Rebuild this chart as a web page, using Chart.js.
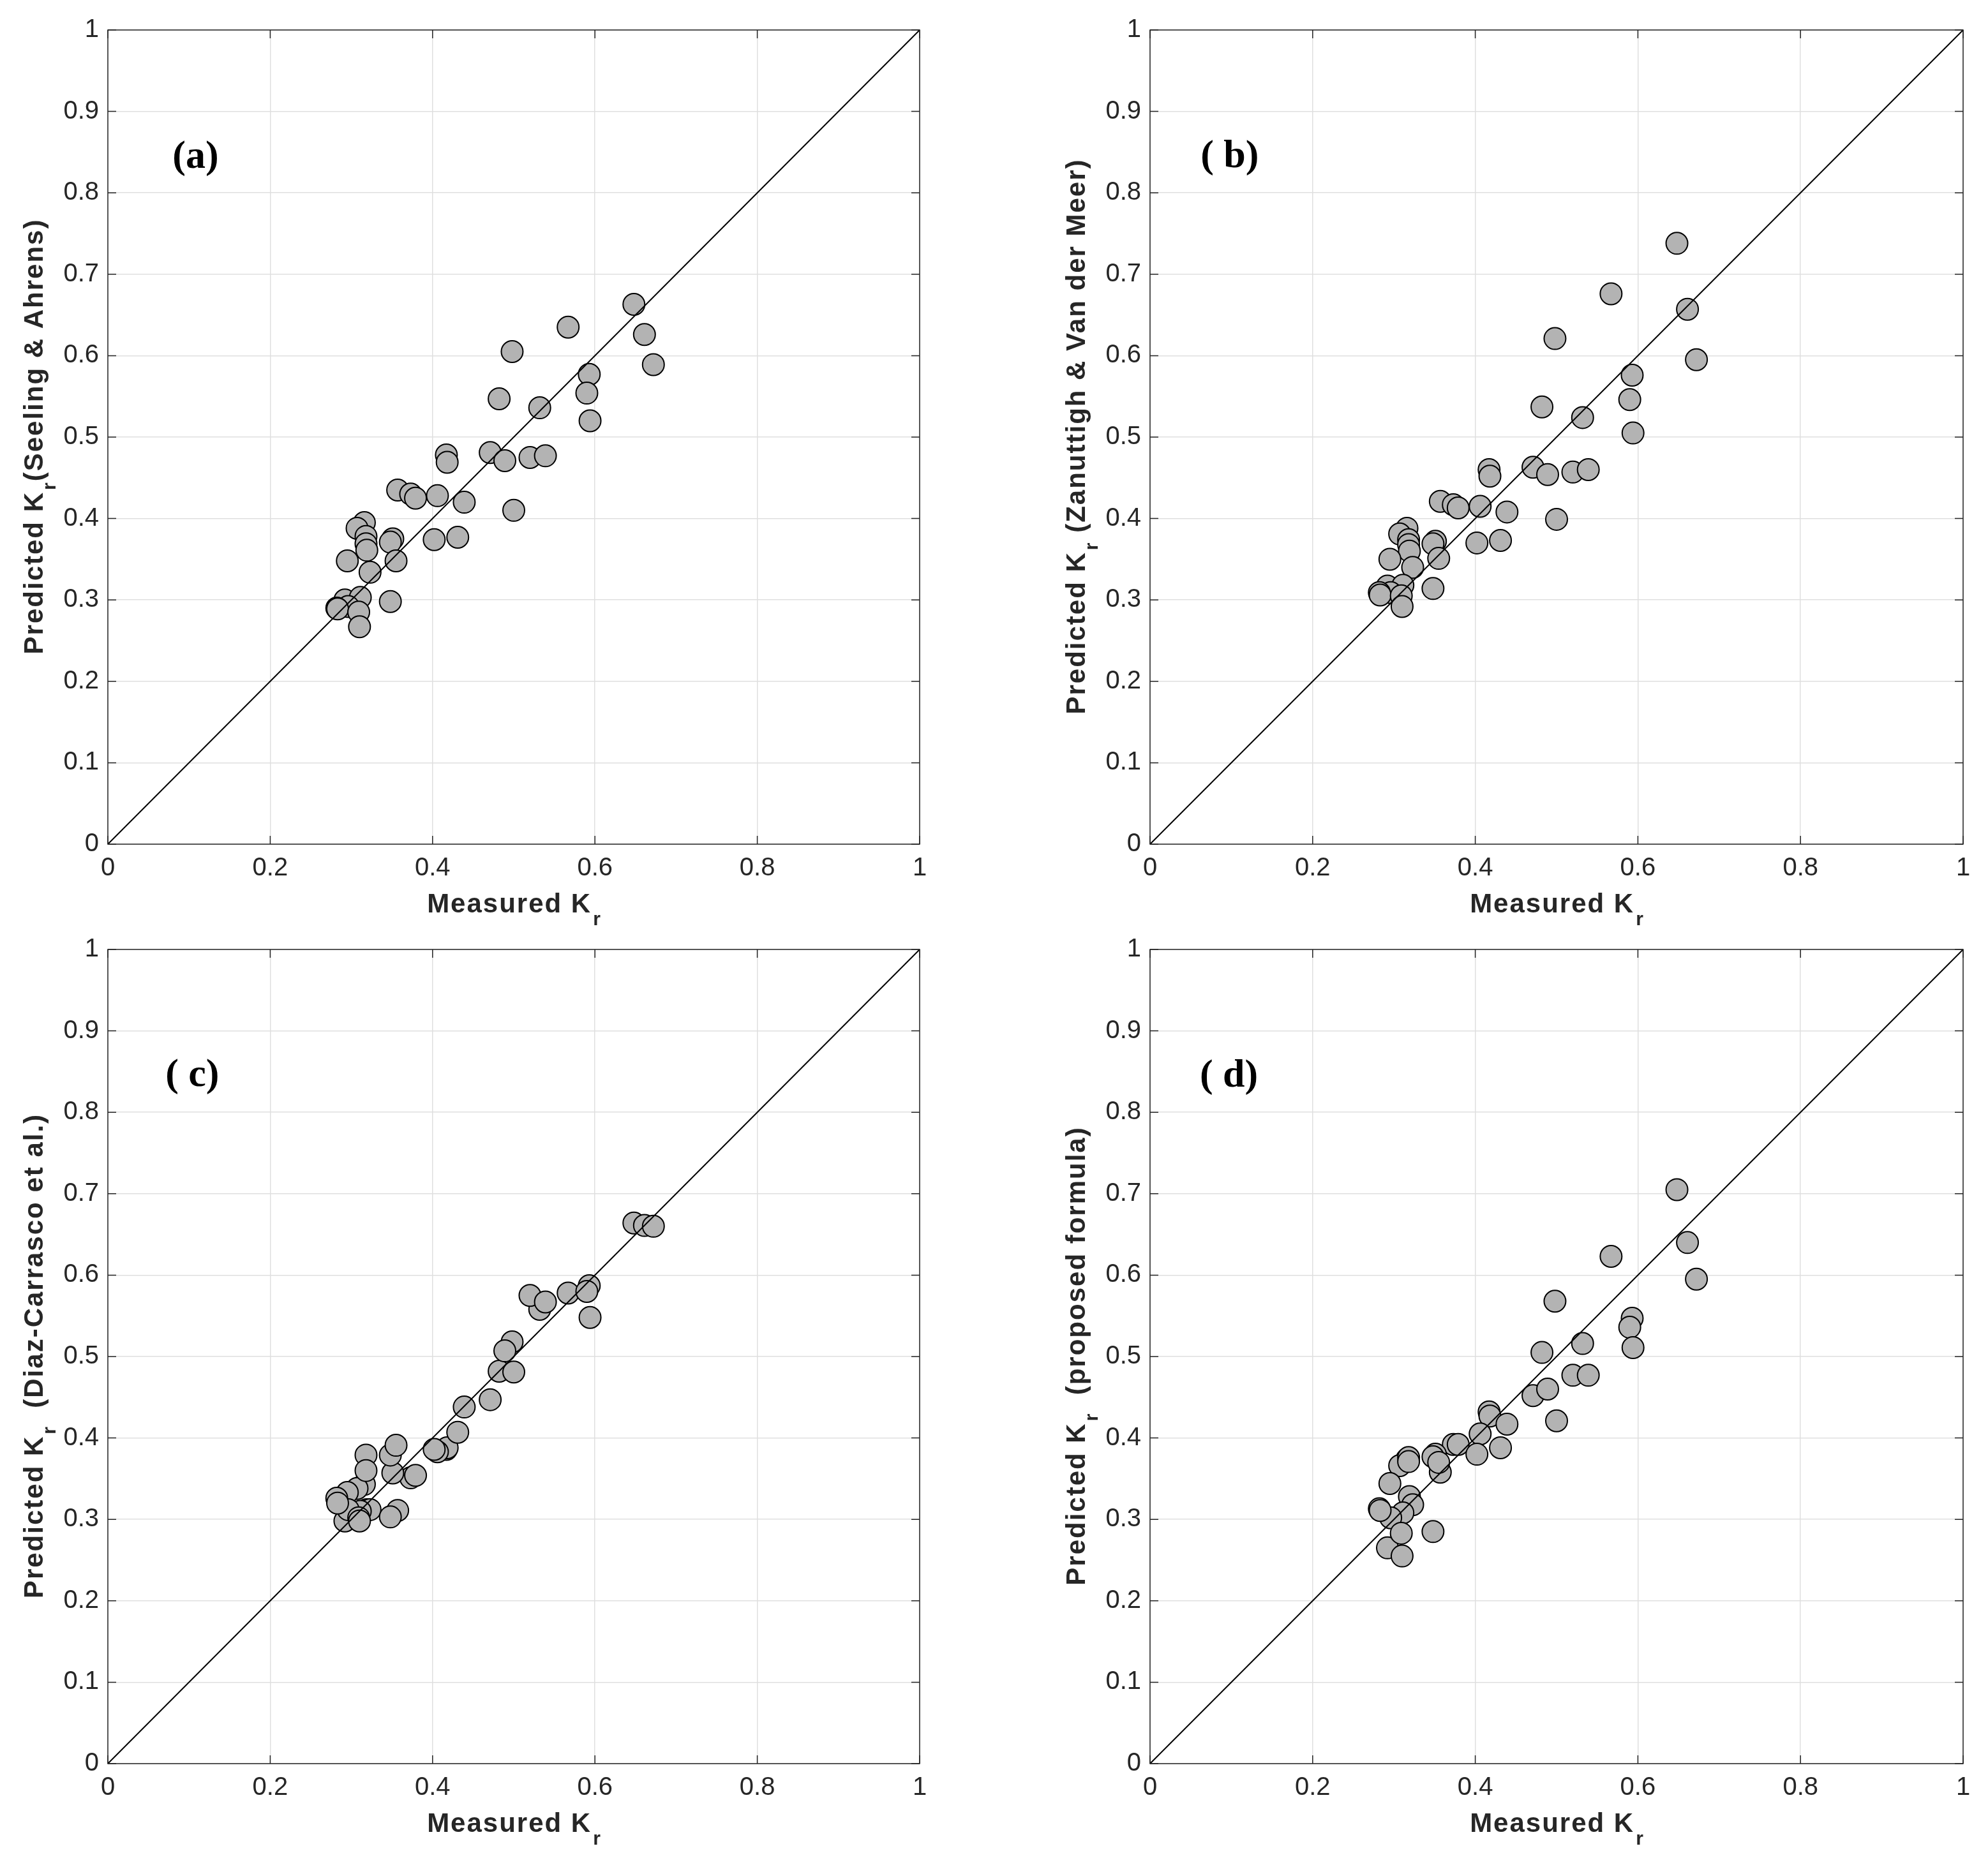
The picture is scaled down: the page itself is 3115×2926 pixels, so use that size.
<!DOCTYPE html>
<html>
<head>
<meta charset="utf-8">
<title>Predicted vs measured Kr</title>
<script src="https://cdn.jsdelivr.net/npm/chart.js@4.4.1/dist/chart.umd.min.js"></script>
<style>
  html, body { margin: 0; padding: 0; background: #fff; }
  body { width: 3115px; height: 2926px; position: relative; overflow: hidden; }
  canvas { position: absolute; }
</style>
</head>
<body>
<canvas id="chartA" width="1557" height="1463" style="left:0px;top:0px"></canvas>
<canvas id="chartB" width="1558" height="1463" style="left:1557px;top:0px"></canvas>
<canvas id="chartC" width="1557" height="1486" style="left:0px;top:1440px"></canvas>
<canvas id="chartD" width="1558" height="1486" style="left:1557px;top:1440px"></canvas>
<script>
// measured Kr, same for all four panels
const measured = [0.648, 0.567, 0.661, 0.672, 0.498, 0.593, 0.590, 0.594, 0.482, 0.532,
                  0.471, 0.489, 0.520, 0.539, 0.417, 0.418, 0.357, 0.373, 0.379, 0.406,
                  0.439, 0.500, 0.316, 0.307, 0.318, 0.318, 0.319, 0.351, 0.348, 0.402,
                  0.431, 0.295, 0.355, 0.323, 0.292, 0.311, 0.348, 0.296, 0.282, 0.283,
                  0.309, 0.310];

const predSeeling = [0.663, 0.635, 0.626, 0.589, 0.605, 0.577, 0.554, 0.520, 0.547, 0.536,
                     0.481, 0.471, 0.475, 0.477, 0.478, 0.469, 0.435, 0.430, 0.425, 0.428,
                     0.420, 0.410, 0.395, 0.388, 0.378, 0.369, 0.361, 0.375, 0.371, 0.374,
                     0.377, 0.348, 0.348, 0.334, 0.300, 0.303, 0.298, 0.292, 0.290, 0.289,
                     0.285, 0.267];

const predZanuttigh = [0.738, 0.676, 0.657, 0.595, 0.621, 0.576, 0.546, 0.505, 0.537, 0.524,
                       0.463, 0.454, 0.457, 0.460, 0.460, 0.452, 0.421, 0.417, 0.413, 0.415,
                       0.408, 0.399, 0.388, 0.381, 0.374, 0.368, 0.360, 0.372, 0.369, 0.370,
                       0.373, 0.350, 0.351, 0.340, 0.317, 0.318, 0.314, 0.309, 0.309, 0.306,
                       0.305, 0.292];

const predDiaz = [0.664, 0.578, 0.661, 0.660, 0.518, 0.587, 0.580, 0.548, 0.482, 0.558,
                  0.447, 0.507, 0.575, 0.567, 0.386, 0.388, 0.311, 0.351, 0.354, 0.383,
                  0.438, 0.481, 0.343, 0.338, 0.379, 0.360, 0.312, 0.357, 0.379, 0.386,
                  0.407, 0.333, 0.391, 0.312, 0.298, 0.310, 0.303, 0.312, 0.326, 0.320,
                  0.302, 0.298];

const predProposed = [0.705, 0.623, 0.640, 0.595, 0.568, 0.547, 0.536, 0.511, 0.505, 0.516,
                      0.452, 0.460, 0.477, 0.477, 0.432, 0.427, 0.358, 0.392, 0.392, 0.405,
                      0.417, 0.421, 0.374, 0.366, 0.376, 0.371, 0.328, 0.380, 0.377, 0.380,
                      0.388, 0.344, 0.370, 0.318, 0.265, 0.308, 0.285, 0.302, 0.313, 0.311,
                      0.283, 0.255];

const xTickValues = [0, 0.2, 0.4, 0.6, 0.8, 1];
const xTickLabels = ['0', '0.2', '0.4', '0.6', '0.8', '1'];
const yTickValues = [0, 0.1, 0.2, 0.3, 0.4, 0.5, 0.6, 0.7, 0.8, 0.9, 1];
const yTickLabels = ['0', '0.1', '0.2', '0.3', '0.4', '0.5', '0.6', '0.7', '0.8', '0.9', '1'];
const diagonal = [0, 1];

const sansFamily = '"Liberation Sans", Arial, sans-serif';
const axisColor = '#262626';

// draws "main" + subscript + "rest" centred on cx, baseline baseY
function drawSubText(ctx, parts, cx, baseY) {
  const mainFont = 'bold 42px ' + sansFamily;
  const subFont = 'bold 30px ' + sansFamily;
  ctx.letterSpacing = '2px';
  ctx.font = mainFont;
  const w1 = ctx.measureText(parts[0]).width;
  const w3 = ctx.measureText(parts[2]).width;
  ctx.font = subFont;
  const w2 = ctx.measureText(parts[1]).width;
  const x0 = cx - (w1 + w2 + w3) / 2;
  ctx.textAlign = 'left';
  ctx.textBaseline = 'alphabetic';
  ctx.fillStyle = axisColor;
  ctx.font = mainFont;
  ctx.fillText(parts[0], x0, baseY);
  ctx.font = subFont;
  ctx.fillText(parts[1], x0 + w1 + 2, baseY + 20);
  ctx.font = mainFont;
  ctx.fillText(parts[2], x0 + w1 + w2 + 2, baseY);
}

const framePlugin = {
  id: 'frame',
  afterDraw(chart, args, opts) {
    const { ctx, chartArea: a, scales: { x, y } } = chart;
    ctx.save();
    ctx.strokeStyle = axisColor;
    ctx.lineWidth = 1.5;
    ctx.strokeRect(a.left, a.top, a.right - a.left, a.bottom - a.top);
    // inward ticks on all four sides
    ctx.beginPath();
    xTickValues.forEach(v => {
      const px = x.getPixelForValue(v);
      ctx.moveTo(px, a.bottom); ctx.lineTo(px, a.bottom - 13);
      ctx.moveTo(px, a.top); ctx.lineTo(px, a.top + 13);
    });
    yTickValues.forEach(v => {
      const py = y.getPixelForValue(v);
      ctx.moveTo(a.left, py); ctx.lineTo(a.left + 13, py);
      ctx.moveTo(a.right, py); ctx.lineTo(a.right - 13, py);
    });
    ctx.stroke();

    // panel tag
    ctx.fillStyle = '#000';
    ctx.font = 'bold 62px "Liberation Serif", "Times New Roman", serif';
    ctx.textAlign = 'center';
    ctx.textBaseline = 'middle';
    ctx.fillText(opts.tag, x.getPixelForValue(opts.tagX), y.getPixelForValue(opts.tagY));

    // axis titles
    drawSubText(ctx, ['Measured K', 'r', ''], (a.left + a.right) / 2, a.bottom + 107);
    ctx.translate(a.left - 102, (a.top + a.bottom) / 2);
    ctx.rotate(-Math.PI / 2);
    drawSubText(ctx, opts.yTitle, 0, 0);
    ctx.restore();
  }
};

const panels = [
  { id: 'chartA', pred: predSeeling, tag: '(a)', tagX: 0.108, tagY: 0.843,
    yTitle: ['Predicted K', 'r', '(Seeling & Ahrens)'],
    canvas: { left: 0, top: 0, width: 1557, height: 1463 },
    box: { left: 169, top: 47, right: 1441, bottom: 1323 } },
  { id: 'chartB', pred: predZanuttigh, tag: '( b)', tagX: 0.098, tagY: 0.844,
    yTitle: ['Predicted K', 'r', ' (Zanuttigh & Van der Meer)'],
    canvas: { left: 1557, top: 0, width: 1558, height: 1463 },
    box: { left: 1802, top: 47, right: 3076, bottom: 1323 } },
  { id: 'chartC', pred: predDiaz, tag: '( c)', tagX: 0.104, tagY: 0.845,
    yTitle: ['Predicted K', 'r', '  (Diaz-Carrasco et al.)'],
    canvas: { left: 0, top: 1440, width: 1557, height: 1486 },
    box: { left: 169, top: 1488, right: 1441, bottom: 2764 } },
  { id: 'chartD', pred: predProposed, tag: '( d)', tagX: 0.097, tagY: 0.844,
    yTitle: ['Predicted K', 'r', '  (proposed formula)'],
    canvas: { left: 1557, top: 1440, width: 1558, height: 1486 },
    box: { left: 1802, top: 1488, right: 3076, bottom: 2764 } }
];

panels.forEach(p => {
  const c = p.canvas, b = p.box;
  new Chart(document.getElementById(p.id), {
    type: 'scatter',
    data: {
      datasets: [
        {
          type: 'line',
          data: diagonal.map(v => ({ x: v, y: v })),
          borderColor: '#000',
          borderWidth: 2,
          pointRadius: 0,
          fill: false,
          order: 0
        },
        {
          data: measured.map((m, i) => ({ x: m, y: p.pred[i] })),
          pointRadius: 17,
          pointHoverRadius: 17,
          backgroundColor: '#b3b3b3',
          borderColor: '#000',
          borderWidth: 2,
          order: 1
        }
      ]
    },
    options: {
      responsive: false,
      animation: false,
      events: [],
      layout: { padding: { top: b.top - c.top, right: c.left + c.width - b.right, left: 0, bottom: 0 } },
      plugins: {
        legend: { display: false },
        tooltip: { enabled: false },
        frame: { tag: p.tag, tagX: p.tagX, tagY: p.tagY, yTitle: p.yTitle }
      },
      scales: {
        x: {
          type: 'linear', min: 0, max: 1,
          afterBuildTicks: s => { s.ticks = xTickValues.map(v => ({ value: v })); },
          afterFit: s => { s.height = c.top + c.height - b.bottom; },
          grid: { color: '#dfdfdf', lineWidth: 1.5, drawTicks: false },
          border: { display: false },
          ticks: {
            padding: 14, color: axisColor, maxRotation: 0, autoSkip: false,
            font: { family: sansFamily, size: 40 },
            callback: (v, i) => xTickLabels[i]
          }
        },
        y: {
          type: 'linear', min: 0, max: 1,
          afterBuildTicks: s => { s.ticks = yTickValues.map(v => ({ value: v })); },
          afterFit: s => { s.width = b.left - c.left; },
          grid: { color: '#dfdfdf', lineWidth: 1.5, drawTicks: false },
          border: { display: false },
          ticks: {
            padding: 14, color: axisColor, autoSkip: false,
            font: { family: sansFamily, size: 40 },
            callback: (v, i) => yTickLabels[i]
          }
        }
      }
    },
    plugins: [framePlugin]
  });
});
</script>
</body>
</html>
